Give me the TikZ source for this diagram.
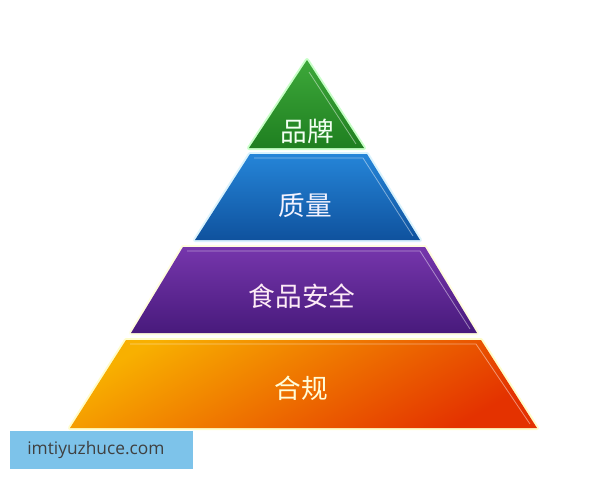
\documentclass[tikz,border=0pt]{standalone}
\usepackage{fontspec}
\newfontfamily\cjk{Noto Sans CJK SC}
\setsansfont{Open Sans}
\begin{document}
\begin{tikzpicture}[x=0.75pt,y=-0.75pt]
\definecolor{gA}{HTML}{3DA83A}\definecolor{gB}{HTML}{1F7F20}
\definecolor{bA}{HTML}{2585D8}\definecolor{bB}{HTML}{0F529E}
\definecolor{pA}{HTML}{7636AC}\definecolor{pB}{HTML}{481A7C}
\definecolor{oA}{HTML}{F8B000}\definecolor{oB}{HTML}{E43200}
\definecolor{wm}{HTML}{7DC3EA}
\tikzset{
  layer/.style={line join=round},
  glow/.style={draw=#1, line width=3pt, line join=round, opacity=0.7},
  bevel/.style={draw=white, line width=0.6pt, opacity=0.45, line join=round},
  lbl/.style={font=\cjk\fontsize{20}{20}\selectfont, inner sep=0pt}
}
\useasboundingbox[fill=white] (0,0) rectangle (600,480);
% green apex
\path[glow=green!30] (307,60) -- (364,148) -- (249,148) -- cycle;
\shade[layer, top color=gA, bottom color=gB] (307,60) -- (364,148) -- (249,148) -- cycle;
\draw[bevel] (309,72) -- (356,144);
% blue
\path[glow=cyan!20] (250,154) -- (367,154) -- (420,240) -- (195,240) -- cycle;
\shade[layer, top color=bA, bottom color=bB] (250,154) -- (367,154) -- (420,240) -- (195,240) -- cycle;
\draw[bevel] (254,158) -- (363,158) -- (413,236);
% purple
\path[glow=yellow!18] (183,247) -- (425,247) -- (477,333) -- (131,333) -- cycle;
\shade[layer, top color=pA, bottom color=pB] (183,247) -- (425,247) -- (477,333) -- (131,333) -- cycle;
\draw[bevel] (187,251) -- (420,251) -- (470,329);
% orange
\path[glow=yellow!30] (126,340) -- (481,340) -- (537,428) -- (70,428) -- cycle;
\shade[layer, top color=oA, bottom color=oB, shading angle=30] (126,340) -- (481,340) -- (537,428) -- (70,428) -- cycle;
\draw[bevel] (130,344) -- (476,344) -- (530,424);
% labels
\node[lbl, text=green!5] (brand) at (307,131) {品牌};
\node[lbl, text=blue!5] (quality) at (305,205) {质量};
\node[lbl, text=magenta!8] (safety) at (302,296) {食品安全};
\node[lbl, text=yellow!15] (comply) at (301,388) {合规};
% watermark
\fill[wm] (10,431) rectangle (193,469);
\node[font=\sffamily\fontsize{13}{13}\selectfont, text=black!75, anchor=west, inner sep=0pt] (wmark) at (27,450) {imtiyuzhuce.com};
\end{tikzpicture}
\end{document}
